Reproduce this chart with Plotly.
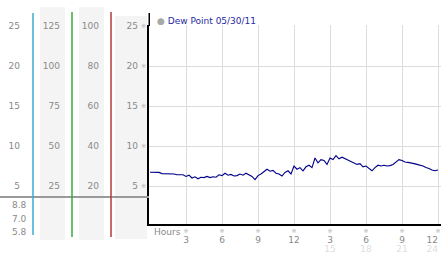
import plotly.graph_objects as go

# ---------------- data ----------------
dew_point = [
    6.72, 6.72, 6.72, 6.70, 6.55, 6.55, 6.52, 6.50,
    6.50, 6.40, 6.42, 6.40, 6.20, 6.35, 6.00, 6.15,
    5.90, 6.10, 6.05, 6.20, 6.05, 6.15, 6.10, 6.40,
    6.30, 6.60, 6.35, 6.45, 6.25, 6.30, 6.50, 6.35,
    6.60, 6.40, 6.20, 5.80, 6.30, 6.50, 6.80, 7.10,
    6.85, 6.95, 6.60, 6.50, 6.25, 6.70, 6.90, 6.50,
    7.50, 7.10, 7.30, 6.90, 7.40, 7.60, 7.30, 8.50,
    7.90, 8.30, 8.20, 7.70, 8.50, 8.30, 8.80, 8.40,
    8.60, 8.40, 8.20, 8.00, 7.90, 7.70, 7.80, 7.40,
    7.50, 7.20, 6.90, 7.30, 7.60, 7.50, 7.60, 7.50,
    7.55, 7.70, 8.00, 8.30, 8.20, 8.00, 7.95, 7.90,
    7.80, 7.70, 7.60, 7.50, 7.30, 7.20, 7.00, 6.90,
    7.00,
]
hours = [i * 0.25 for i in range(len(dew_point))]

hour_ticks = [3, 6, 9, 12, 15, 18, 21, 24]
hour_labels = ["3", "6", "9", "12", "3", "6", "9", "12"]
hour_labels_24 = ["", "", "", "", "15", "18", "21", "24"]

col1_ticks = [5, 10, 15, 20, 25]
col2_ticks = [25, 50, 75, 100, 125]
col3_ticks = [20, 40, 60, 80, 100]
col4_ticks = [5, 10, 15, 20, 25]
summary_values = ["8.8", "7.0", "5.8"]
legend_name = "Dew Point 05/30/11"

# ---------------- layout helpers ----------------
W, H = 442, 253
def fx(p):
    return p / W
def fy(p):
    return 1 - p / H

Y_RANGE = [0.25, 25.125]
X_RANGE = [-1 / 12, 24.25]
Y_DOMAIN = [fy(224), fy(25)]
X_DOMAIN = [fx(149), fx(441)]

LABEL_FONT = dict(family="DejaVu Sans", size=9, color="#8a8a8a")
FAINT_FONT = dict(family="DejaVu Sans", size=9, color="#dedede")
MARK_FONT = dict(family="DejaVu Sans", size=6, color="#b0b0b0")

fig = go.Figure()
fig.add_trace(go.Scatter(
    x=hours, y=dew_point, mode="lines",
    line=dict(color="#000088", width=1.1),
    showlegend=False, hoverinfo="skip",
))
# dummy traces so the extra axes exist
for xa, ya in [("x2", "y"), ("x3", "y"), ("x4", "y"), ("x5", "y"),
               ("x", "y2"), ("x", "y3"), ("x", "y4"), ("x", "y5")]:
    fig.add_trace(go.Scatter(x=[None], y=[None], xaxis=xa, yaxis=ya,
                             showlegend=False, hoverinfo="skip"))

def col_axis(ticks, pos):
    f = ticks[-1] / col1_ticks[-1]
    return dict(
        overlaying="y", anchor="free", position=pos, side="left",
        domain=Y_DOMAIN, range=[Y_RANGE[0] * f, Y_RANGE[1] * f],
        tickmode="array", tickvals=ticks, ticktext=[str(t) for t in ticks],
        showgrid=False, showline=False, zeroline=False, ticks="",
        tickfont=LABEL_FONT, automargin=False,
    )

def hour_axis(vals, labels, pos, font, labelpos="outside"):
    return dict(
        overlaying="x", anchor="free", position=pos, side="bottom",
        range=X_RANGE, tickmode="array", tickvals=vals, ticktext=labels,
        tickfont=font, ticks="", ticklabelposition=labelpos,
        showgrid=False, showline=False, zeroline=False, automargin=False,
    )

fig.update_layout(
    width=W, height=H,
    margin=dict(l=0, r=0, t=0, b=0),
    paper_bgcolor="white", plot_bgcolor="white",
    xaxis=dict(
        domain=X_DOMAIN, range=X_RANGE, anchor="y",
        tickmode="array", tickvals=hour_ticks, ticktext=["※"] * len(hour_ticks),
        tickfont=MARK_FONT, ticks="", ticklabeloverflow="allow",
        showgrid=True, gridcolor="#dcdcdc", gridwidth=1,
        showline=True, linecolor="black", linewidth=1.5,
        zeroline=False, automargin=False,
    ),
    # hour labels; the last one sits left of its tick so it stays inside the picture
    xaxis2=hour_axis(hour_ticks[:-1], hour_labels[:-1], fy(233), LABEL_FONT),
    xaxis4=hour_axis(hour_ticks[-1:], hour_labels[-1:], fy(233), LABEL_FONT, "outside left"),
    xaxis3=hour_axis(hour_ticks[:-1], hour_labels_24[:-1], fy(242), FAINT_FONT),
    xaxis5=hour_axis(hour_ticks[-1:], hour_labels_24[-1:], fy(242), FAINT_FONT, "outside left"),
    yaxis=dict(
        domain=Y_DOMAIN, range=Y_RANGE, anchor="x",
        tickmode="array", tickvals=col4_ticks, ticktext=["※"] * len(col4_ticks),
        tickfont=MARK_FONT, ticks="",
        showgrid=True, gridcolor="#dcdcdc", gridwidth=1,
        showline=True, linecolor="black", linewidth=1.5,
        zeroline=False, automargin=False,
    ),
    yaxis2=col_axis(col1_ticks, fx(20)),
    yaxis3=col_axis(col2_ticks, fx(60)),
    yaxis4=col_axis(col3_ticks, fx(99)),
    yaxis5=col_axis(col4_ticks, fx(138)),
)

shapes = []
# gray column backgrounds
for x0, x1, y0, y1 in [(40, 65, 7, 240), (79, 104, 7, 240), (115, 147, 16, 239)]:
    shapes.append(dict(type="rect", xref="paper", yref="paper",
                       x0=fx(x0), x1=fx(x1), y0=fy(y1), y1=fy(y0),
                       fillcolor="#f4f4f4", line=dict(width=0), layer="below"))
# horizontal divider
shapes.append(dict(type="line", xref="paper", yref="paper",
                   x0=fx(0), x1=fx(149), y0=fy(197), y1=fy(197),
                   line=dict(color="#9a9a9a", width=2)))
# colored column separators
for x, y0, y1, c in [(33, 13, 235, "#3aaccc"), (72, 12, 237, "#3aaa3a"), (111, 12, 237, "#b03a3a")]:
    shapes.append(dict(type="line", xref="paper", yref="paper",
                       x0=fx(x), x1=fx(x), y0=fy(y1), y1=fy(y0),
                       line=dict(color=c, width=1.5)))
# extension of plot's left border above the grid
shapes.append(dict(type="line", xref="paper", yref="paper",
                   x0=fx(149.25), x1=fx(149.25), y0=fy(13), y1=fy(26),
                   line=dict(color="black", width=1.5)))
fig.update_layout(shapes=shapes)

annotations = []
for i, v in enumerate(summary_values):
    annotations.append(dict(text=v, xref="paper", yref="paper",
                            x=fx(29), y=fy(205 + 13.5 * i), xanchor="right", yanchor="middle",
                            showarrow=False, font=LABEL_FONT))
annotations.append(dict(text="Hours", xref="paper", yref="paper",
                        x=fx(152), y=fy(232), xanchor="left", yanchor="middle",
                        showarrow=False, font=LABEL_FONT))
annotations.append(dict(
    text="<span style='color:#a8a8a8'>●</span> <span style='color:#2a2aa0'>" + legend_name + "</span>",
    xref="paper", yref="paper", x=fx(155), y=fy(21), xanchor="left", yanchor="middle",
    showarrow=False, font=dict(family="DejaVu Sans", size=9, color="#2a2aa0")))
fig.update_layout(annotations=annotations)

fig.write_html("out.html")
